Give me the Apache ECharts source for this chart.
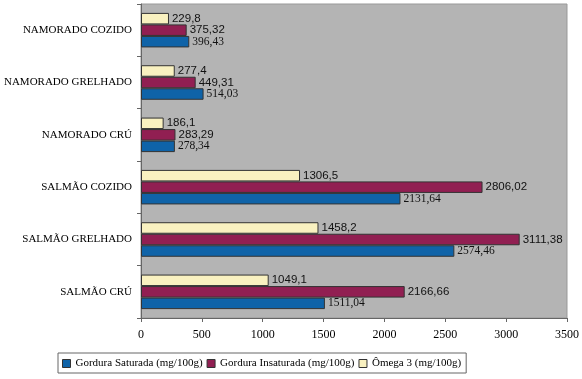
<!DOCTYPE html>
<html><head><meta charset="utf-8">
<script src="https://cdn.jsdelivr.net/npm/echarts@6/dist/echarts.min.js"></script>
<style>html,body{margin:0;padding:0;background:#fff}#c{width:582px;height:379px}</style>
</head><body><div id="c"></div>
<script>
var categories = ['SALMÃO CRÚ','SALMÃO GRELHADO','SALMÃO COZIDO','NAMORADO CRÚ','NAMORADO GRELHADO','NAMORADO COZIDO'];
var saturada = [1511.04, 2574.46, 2131.64, 278.34, 514.03, 396.43];
var insaturada = [2166.66, 3111.38, 2806.02, 283.29, 449.31, 375.32];
var omega3 = [1049.1, 1458.2, 1306.5, 186.1, 277.4, 229.8];
var seriesNames = ['Gordura Saturada (mg/100g)','Gordura Insaturada (mg/100g)','Ômega 3 (mg/100g)'];
var xTicks = [0,500,1000,1500,2000,2500,3000,3500];

function fmt(p){ return String(p.value).replace('.', ','); }
var serif = 'Liberation Serif';
var sans = 'Liberation Sans';
function mk(name, data, color, fontFamily){
  return {
    name: name, type: 'bar', data: data, barGap: '0%', barCategoryGap: '34%',
    itemStyle: {color: color, borderColor: '#333', borderWidth: 1},
    label: {show: true, position: 'right', distance: 3, formatter: fmt,
      fontFamily: fontFamily, fontSize: 11.5, color: '#111'},
    emphasis: {disabled: true}
  };
}
var chart = echarts.init(document.getElementById('c'), null, {renderer: 'canvas'});
chart.setOption({
  animation: false,
  backgroundColor: '#fff',
  grid: {left: 141, right: 15, top: 4, bottom: 61, outerBoundsMode: 'none', containLabel: false,
    show: true, backgroundColor: '#b4b4b4', borderColor: '#999', borderWidth: 1},
  legend: {
    data: seriesNames, top: 353, left: 58, itemWidth: 8, itemHeight: 8, itemGap: 4,
    icon: 'rect', borderColor: '#666', borderWidth: 1, padding: [5, 5, 4, 4],
    textStyle: {fontFamily: serif, fontSize: 11, color: '#000'},
    itemStyle: {borderColor: '#333', borderWidth: 1}
  },
  xAxis: {
    type: 'value', min: 0, max: 3500, interval: 500,
    axisLine: {show: true, lineStyle: {color: '#666'}},
    axisTick: {show: true, length: 4, lineStyle: {color: '#666'}},
    splitLine: {show: false},
    axisLabel: {fontFamily: serif, fontSize: 12, color: '#000', margin: 11,
      formatter: function(v){ return xTicks.indexOf(v) >= 0 ? String(v) : ''; }}
  },
  yAxis: {
    type: 'category', data: categories,
    axisLine: {show: true, lineStyle: {color: '#666'}},
    axisTick: {show: true, length: 4, lineStyle: {color: '#666'}},
    axisLabel: {fontFamily: serif, fontSize: 11, color: '#000', margin: 9}
  },
  series: [
    mk(seriesNames[2], omega3, '#f9f1c0', sans),
    mk(seriesNames[1], insaturada, '#911f52', sans),
    mk(seriesNames[0], saturada, '#0f63a8', serif)
  ]
});
</script></body></html>
